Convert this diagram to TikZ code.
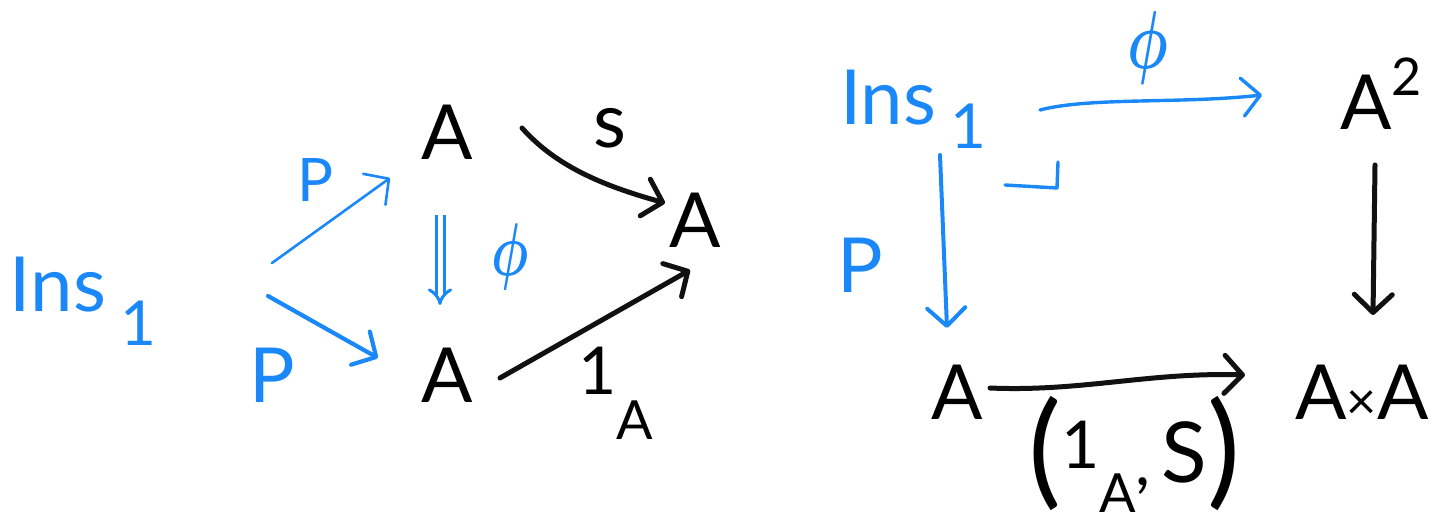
\documentclass[tikz,border=0pt]{standalone}
\usepackage{graphicx}
\usepackage{fontspec}
\usepackage{amsmath}
\setmainfont{Lato}
\usetikzlibrary{arrows.meta,calc}
\definecolor{hblue}{HTML}{1A88F8}
\definecolor{hblack}{HTML}{111111}
\newcommand\fsz[1]{\fontsize{#1}{#1}\selectfont}
\begin{document}
\begin{tikzpicture}[x=0.5pt,y=-0.5pt,
  obj/.style={inner sep=0pt, outer sep=0pt, font=\fsz{38}},
  lbl/.style={inner sep=0pt, outer sep=0pt},
  tipb/.style={-{Straight Barb[length=9pt,width=19pt,round]}},
  bluearr/.style={draw=hblue, line width=1.7pt, line cap=round, tipb},
  blackarr/.style={draw=hblack, line width=2.5pt, line cap=round, tipb},
]
\useasboundingbox (0,0) rectangle (1456,523);
% ---------- left diagram ----------
\node[obj,text=hblue,anchor=base west] (insL) at (10,312) {Ins\hspace{7pt}\raisebox{-17pt}{\fsz{31}1}};
\node[obj,anchor=base] (At) at (447,160) {A};
\node[obj,anchor=base] (Ab) at (447,403) {A};
\node[obj,anchor=base] (Ar) at (695,248) {A};

\draw[bluearr, line width=1.3pt] ($(insL.base west)+(262,-49)$) -- ($(At.base)+(-57,18)$);
\draw[bluearr, line width=2.1pt] ($(insL.base west)+(258,-16)$) -- ($(Ab.base)+(-69,-45)$);
\draw[hblue, line width=1.5pt, double=white, double distance=2.5pt, -{Implies}] ($(At.base)+(-7,55)$) -- ($(Ab.base)+(-7,-98)$);
\draw[blackarr] ($(At.base)+(75,-32)$) .. controls (555,165) and (600,185) .. ($(Ar.base)+(-30,-45)$);
\draw[blackarr] ($(Ab.base)+(53,-25)$) -- ($(Ar.base)+(-5,22)$);

\node[lbl,text=hblue,font=\fsz{30}] (lp1) at (316,180) {P};
\node[lbl,text=hblue,font=\fsz{38}] (lp2) at (272,375) {P};
\node[lbl,text=hblue,font=\fsz{24}] (lphi) at (510,257) {\scalebox{1.05}[1.5]{$\boldsymbol{\phi}$}};
\node[lbl,font=\fsz{38}] (ls) at (610,128) {s};
\node[lbl,font=\fsz{33},anchor=base west] (l1A) at (578,395) {1\raisebox{-22pt}{\fsz{27}A}};

% ---------- right diagram ----------
\node[obj,text=hblue,anchor=base west] (insR) at (840,125) {Ins\hspace{7pt}\raisebox{-12pt}{\fsz{31}1}};
\node[obj,anchor=base west] (A2) at (1340,130) {A\raisebox{17pt}{\fsz{26}2}};
\node[obj,anchor=base] (Abr) at (957,420) {A};
\node[obj,anchor=base] (AxA) at (1362,420) {A{\fsz{26}\texttimes}A};

\draw[bluearr] ($(insR.base west)+(200,-15)$) .. controls (1090,97) and (1180,104) .. ($(A2.base west)+(-78,-35)$);
\draw[bluearr, line width=2pt] ($(insR.base west)+(100,30)$) -- ($(Abr.base)+(-10,-92)$);
\draw[hblue, line width=1.7pt, line cap=round, line join=round] (1005,185) -- (1057,188) -- (1058,162);
\draw[blackarr] ($(A2.base west)+(35,35)$) -- ($(AxA.base)+(11,-105)$);
\draw[blackarr] ($(Abr.base)+(33,-32)$) .. controls (1080,392) and (1150,372) .. ($(AxA.base)+(-117,-45)$);

\node[lbl,text=hblue,font=\fsz{24}] (rphi) at (1148,48) {\scalebox{1.15}[1.65]{$\boldsymbol{\phi}$}};
\node[lbl,text=hblue,font=\fsz{38}] (rp) at (860,265) {P};
\node[lbl,font=\fsz{33},anchor=base west] (l1s) at (1028,492) {{\fsz{62}(}\raisebox{12pt}{1}\raisebox{-10pt}{\fsz{27}A}\raisebox{3pt}{,}\,\raisebox{5pt}{\fsz{42}S}{\fsz{62})}};
\end{tikzpicture}
\end{document}
